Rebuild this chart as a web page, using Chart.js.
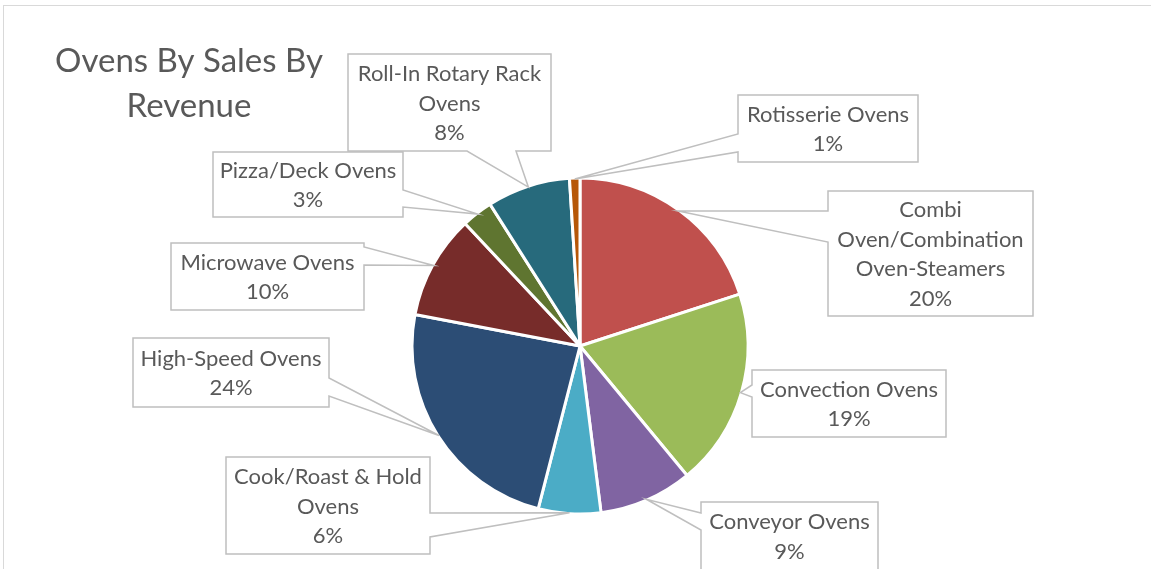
<!DOCTYPE html>
<html>
<head>
<meta charset="utf-8">
<title>Ovens By Sales By Revenue</title>
<script src="https://cdn.jsdelivr.net/npm/chart.js@4.4.1/dist/chart.umd.min.js"></script>
<style>
  html, body { margin: 0; padding: 0; background: #ffffff; overflow: hidden; }
  #wrap { position: relative; width: 1151px; height: 569px; }
  #frame {
    position: absolute; left: 3px; top: 5px; width: 1200px; height: 600px;
    border-left: 1.5px solid #d9d9d9; border-top: 1.5px solid #d9d9d9;
  }
  canvas { position: absolute; left: 0; top: 0; }
</style>
</head>
<body>
<div id="wrap">
  <div id="frame"></div>
  <canvas id="chart" width="1151" height="569"></canvas>
</div>
<script>
// Oven categories, clockwise from 12 o'clock
const categories = [
  'Combi Oven/Combination Oven-Steamers',
  'Convection Ovens',
  'Conveyor Ovens',
  'Cook/Roast & Hold Ovens',
  'High-Speed Ovens',
  'Microwave Ovens',
  'Pizza/Deck Ovens',
  'Roll-In Rotary Rack Ovens',
  'Rotisserie Ovens'
];

// Share of revenue, percent
const shares = [20, 19, 9, 6, 24, 10, 3, 8, 1];

// Wrapped label text for each callout
const labelLines = [
  ['Combi', 'Oven/Combination', 'Oven-Steamers'],
  ['Convection Ovens'],
  ['Conveyor Ovens'],
  ['Cook/Roast & Hold', 'Ovens'],
  ['High-Speed Ovens'],
  ['Microwave Ovens'],
  ['Pizza/Deck Ovens'],
  ['Roll-In Rotary Rack', 'Ovens'],
  ['Rotisserie Ovens']
];

const sliceColors = [
  '#C0504D', '#9BBB59', '#8064A2', '#4BACC6', '#2C4D75',
  '#772C2A', '#5F7530', '#276A7C', '#B65708'
];

// Callout boxes: rectangle, the edge the pointer leaves from, and the pointer base span on that edge
const calloutLayout = [
  { x: 828, y: 191, w: 205, h: 125, side: 'left',   a: 211, b: 242 },
  { x: 752, y: 370, w: 194, h: 67,  side: 'left',   a: 385, b: 397 },
  { x: 701, y: 502, w: 177, h: 68,  side: 'left',   a: 513, b: 530 },
  { x: 226, y: 457, w: 204, h: 97,  side: 'right',  a: 513, b: 537 },
  { x: 133, y: 338, w: 196, h: 69,  side: 'right',  a: 378, b: 396 },
  { x: 171, y: 243, w: 193, h: 67,  side: 'right',  a: 247, b: 265 },
  { x: 213, y: 152, w: 190, h: 65,  side: 'right',  a: 190, b: 207 },
  { x: 348, y: 54,  w: 203, h: 97,  side: 'bottom', a: 467, b: 516 },
  { x: 738, y: 95,  w: 180, h: 67,  side: 'left',   a: 134, b: 152 }
];

const TEXT_COLOR = '#595959';
const LINE_COLOR = '#BFBFBF';
const LABEL_FONT = '22px Lato';
const LABEL_LINE_HEIGHT = 29.5;

// Chart title in the upper left corner
const titlePlugin = {
  id: 'cornerTitle',
  afterDraw(chart) {
    const ctx = chart.ctx;
    ctx.save();
    ctx.fillStyle = TEXT_COLOR;
    ctx.font = '33px Lato';
    ctx.textAlign = 'center';
    ctx.textBaseline = 'alphabetic';
    ctx.fillText('Ovens By Sales By', 189, 72);
    ctx.fillText('Revenue', 189, 117);
    ctx.restore();
  }
};

// Boxed data labels with a wedge pointing at the middle of each slice
const calloutPlugin = {
  id: 'callouts',
  afterDatasetsDraw(chart) {
    const ctx = chart.ctx;
    const arcs = chart.getDatasetMeta(0).data;
    ctx.save();
    arcs.forEach((arc, i) => {
      const box = calloutLayout[i];
      const mid = (arc.startAngle + arc.endAngle) / 2;
      const r = arc.outerRadius - 1;
      const tx = arc.x + Math.cos(mid) * r;
      const ty = arc.y + Math.sin(mid) * r;
      const { x, y, w, h, side, a, b } = box;

      ctx.beginPath();
      if (side === 'left') {
        ctx.moveTo(x, y);
        ctx.lineTo(x + w, y);
        ctx.lineTo(x + w, y + h);
        ctx.lineTo(x, y + h);
        ctx.lineTo(x, b);
        ctx.lineTo(tx, ty);
        ctx.lineTo(x, a);
      } else if (side === 'right') {
        ctx.moveTo(x, y);
        ctx.lineTo(x + w, y);
        ctx.lineTo(x + w, a);
        ctx.lineTo(tx, ty);
        ctx.lineTo(x + w, b);
        ctx.lineTo(x + w, y + h);
        ctx.lineTo(x, y + h);
      } else if (side === 'bottom') {
        ctx.moveTo(x, y);
        ctx.lineTo(x + w, y);
        ctx.lineTo(x + w, y + h);
        ctx.lineTo(b, y + h);
        ctx.lineTo(tx, ty);
        ctx.lineTo(a, y + h);
        ctx.lineTo(x, y + h);
      }
      ctx.closePath();
      ctx.fillStyle = '#ffffff';
      ctx.fill();
      ctx.lineWidth = 1.5;
      ctx.strokeStyle = LINE_COLOR;
      ctx.lineJoin = 'miter';
      ctx.stroke();

      const lines = labelLines[i].concat([shares[i] + '%']);
      ctx.fillStyle = TEXT_COLOR;
      ctx.font = LABEL_FONT;
      ctx.textAlign = 'center';
      ctx.textBaseline = 'middle';
      const cx = x + w / 2;
      const cy = y + h / 2 + 1;
      lines.forEach((line, k) => {
        ctx.fillText(line, cx, cy + (k - (lines.length - 1) / 2) * LABEL_LINE_HEIGHT);
      });
    });
    ctx.restore();
  }
};

new Chart(document.getElementById('chart'), {
  type: 'pie',
  data: {
    labels: categories,
    datasets: [{
      data: shares,
      backgroundColor: sliceColors,
      borderColor: '#ffffff',
      borderWidth: 3
    }]
  },
  options: {
    responsive: false,
    animation: false,
    devicePixelRatio: 1,
    radius: 168,
    layout: { padding: { top: 146, bottom: 23, left: 380, right: 371 } },
    plugins: {
      legend: { display: false },
      tooltip: { enabled: false },
      title: { display: false }
    }
  },
  plugins: [calloutPlugin, titlePlugin]
});
</script>
</body>
</html>
